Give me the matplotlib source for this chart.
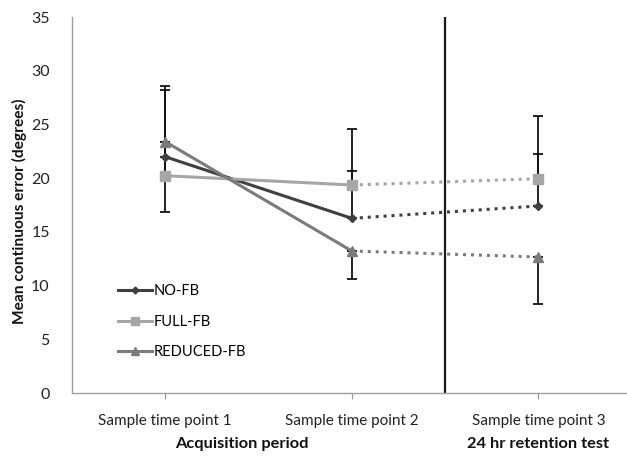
import matplotlib
matplotlib.use("Agg")
import matplotlib.pyplot as plt
from matplotlib.lines import Line2D

plt.rcParams['font.family'] = ['Lato', 'DejaVu Sans']

# data
timepoints = [1, 2, 3]
tick_labels = ["Sample time point 1", "Sample time point 2", "Sample time point 3"]
series = ["NO-FB", "FULL-FB", "REDUCED-FB"]

no_fb = [21.99, 16.26, 17.41]
full_fb = [20.23, 19.36, 19.95]
reduced_fb = [23.39, 13.22, 12.66]

# error bars only go one way in the original (upper for NO/FULL, lower for REDUCED)
no_fb_up = [6.6, 4.4, 4.84]
full_fb_up = [7.98, 5.21, 5.83]
reduced_fb_down = [6.57, 2.64, 4.38]

colors = {"NO-FB": "#404040", "FULL-FB": "#a6a6a6", "REDUCED-FB": "#7b7b7b"}
markers = {"NO-FB": "D", "FULL-FB": "s", "REDUCED-FB": "^"}
msizes = {"NO-FB": 4.5, "FULL-FB": 6.5, "REDUCED-FB": 6.5}

fig = plt.figure(figsize=(6.27, 4.57), dpi=100)
ax = fig.add_axes([0.1148, 0.140, 0.8852, 0.8228])

# error bars first so markers sit on top
ax.errorbar(timepoints, no_fb, yerr=[[0, 0, 0], no_fb_up], fmt="none",
            ecolor="#111111", elinewidth=1.3, capsize=3.6, capthick=1.3, zorder=2)
ax.errorbar(timepoints, full_fb, yerr=[[0, 0, 0], full_fb_up], fmt="none",
            ecolor="#111111", elinewidth=1.3, capsize=3.6, capthick=1.3, zorder=2)
ax.errorbar(timepoints, reduced_fb, yerr=[reduced_fb_down, [0, 0, 0]], fmt="none",
            ecolor="#111111", elinewidth=1.3, capsize=3.6, capthick=1.3, zorder=2)

handles = []
for name, vals in zip(series, [no_fb, full_fb, reduced_fb]):
    c = colors[name]
    # acquisition: solid line between point 1 and 2
    ax.plot(timepoints[:2], vals[:2], color=c, lw=2.2, marker=markers[name],
            ms=msizes[name], mec=c, mfc=c, zorder=3)
    # retention: dotted line from point 2 to 3
    ax.plot(timepoints[1:], vals[1:], color=c, lw=2.2, ls=(0, (1, 1.6)), zorder=3)
    ax.plot(timepoints[2:], vals[2:], ls="none", marker=markers[name],
            ms=msizes[name], mec=c, mfc=c, zorder=4)
    handles.append(Line2D([], [], color=c, lw=2.2, marker=markers[name],
                          ms=msizes[name] - 1, mec=c, mfc=c))

# separator between acquisition and retention
ax.axvline(2.5, color="#1a1a1a", lw=1.6, zorder=1)

ax.set_xlim(0.5, 3.4745)
ax.set_ylim(0, 35)
ax.set_yticks(range(0, 36, 5))
ax.set_xticks(timepoints)
ax.set_xticklabels(tick_labels, fontsize=11, color="#222222")
ax.tick_params(axis="x", length=4, color="#999999", pad=11)
ax.tick_params(axis="y", length=0, pad=16, labelsize=11.5, labelcolor="#222222")

for s in ["top", "right"]:
    ax.spines[s].set_visible(False)
for s in ["left", "bottom"]:
    ax.spines[s].set_color("#a0a0a0")
    ax.spines[s].set_linewidth(1.0)

fig.text(19/627, 1 - 211/457, "Mean continuous error (degrees)", rotation=90,
         ha="center", va="center", fontsize=11.2, fontweight="bold", color="#111111")
fig.text(242/627, 1 - 444/457, "Acquisition period", ha="center", va="center",
         fontsize=11.8, fontweight="bold", color="#111111")
fig.text(538/627, 1 - 444/457, "24 hr retention test", ha="center", va="center",
         fontsize=11.8, fontweight="bold", color="#111111")

ax.legend(handles, series, loc="upper left", bbox_to_anchor=(0.06, 0.325),
          frameon=False, fontsize=10.5, handlelength=2.3, handletextpad=0.1,
          labelspacing=1.15)

fig.savefig("out.png", dpi=100)
